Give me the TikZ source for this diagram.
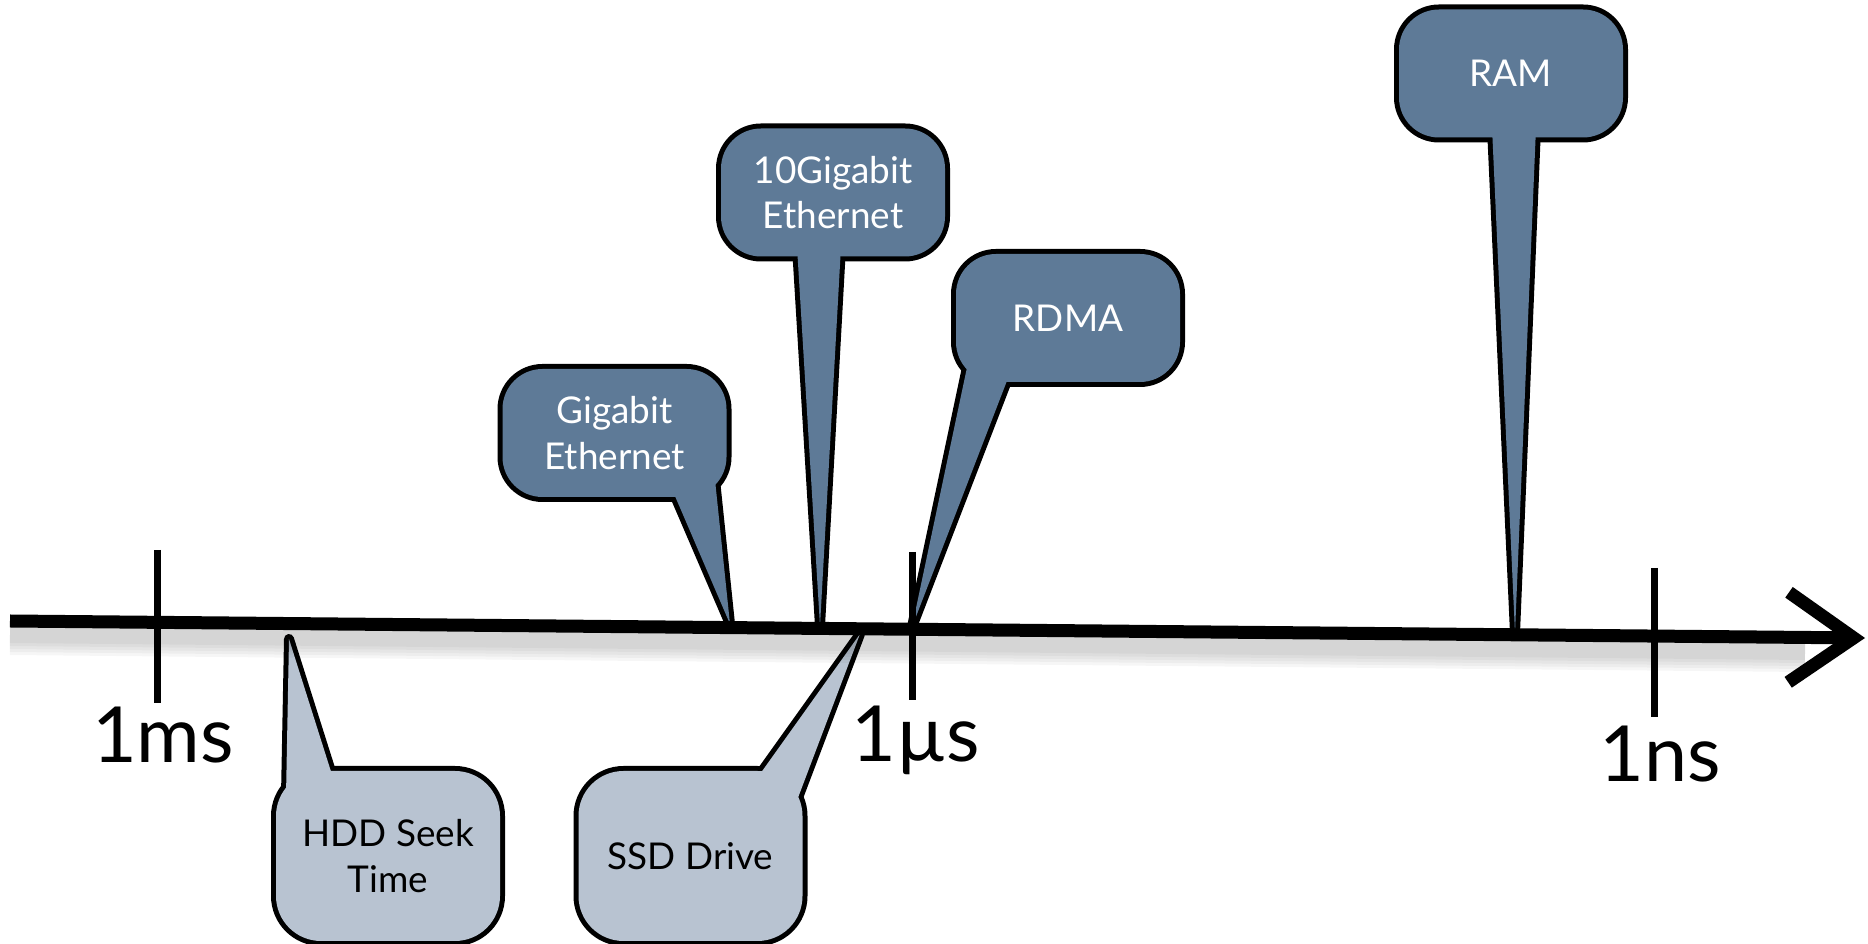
\documentclass[tikz,border=0pt]{standalone}
\usepackage{fontspec}
\setmainfont{Lato}
\usetikzlibrary{arrows.meta, calc, backgrounds, positioning}
\definecolor{bubbledark}{RGB}{94,122,151}
\definecolor{bubblelight}{RGB}{184,195,209}
\tikzset{bubble/.style={rectangle, inner sep=0pt, outer sep=0pt, align=center, % text box of a callout
font=\fontsize{10.5}{13}\selectfont,
preaction={draw=black, line width=1mm}}, % outline drawn under the fill, so only its outer half shows
darkbubble/.style={bubble, fill=bubbledark, text=white, rounded corners=4mm, minimum width=22.4mm, minimum height=12.8mm},
lightbubble/.style={bubble, fill=bubblelight, text=black, rounded corners=4.5mm, minimum width=22.4mm, minimum height=17mm},
tailline/.style={draw=black, line width=1mm, line join=round}, % outline of a pointer
tickmark/.style={draw=black, line width=0.7mm},
scalelabel/.style={anchor=base, font=\fontsize{22}{26}\selectfont},
}

\begin{document}
\begin{tikzpicture}[x=0.1mm, y=-0.1mm]
    \useasboundingbox (0,0) rectangle (1868,944);

    % callouts above the axis
    \node[darkbubble] (gige) at (614.5,433) {Gigabit\\Ethernet};
    \node[darkbubble] (tengig) at (833,192.5) {10Gigabit\\Ethernet};
    \node[darkbubble] (rdma) at (1068,318) {RDMA};
    \node[darkbubble] (ram) at (1511,73.5) {RAM};
    % callouts below the axis
    \node[lightbubble] (hdd) at (388,856) {HDD Seek\\Time};
    \node[lightbubble] (ssd) at (690.5,856) {SSD Drive};

    % where the pointers end
    \coordinate (t-gige) at (730,624);
    \coordinate (t-tengig) at (820,626);
    \coordinate (t-rdma) at (912,627);
    \coordinate (t-ram) at (1515,633);
    \coordinate (t-hdd) at (289,639);
    \coordinate (t-ssd) at (860,634);

    \begin{scope}[on background layer]
        \draw[tailline] ($(gige.south east)+(-55,-9)$) -- (t-gige) -- ($(gige.south east)+(-12,-22)$) -- cycle;
        \draw[tailline] ($(tengig.south)+(-36,-10)$) -- (t-tengig) -- ($(tengig.south)+(8,-10)$) -- cycle;
        \draw[tailline] ($(rdma.south west)+(13,-24)$) -- (t-rdma) -- ($(rdma.south west)+(54,-9)$) -- cycle;
        \draw[tailline] ($(ram.south)+(-19,-10)$) -- (t-ram) -- ($(ram.south)+(25,-10)$) -- cycle;
        \draw[tailline] ($(hdd.north west)+(10,25)$) -- (t-hdd) -- ($(hdd.north west)+(58,10)$) -- cycle;
        \draw[tailline] ($(ssd.north east)+(-46,8)$) -- (t-ssd) -- ($(ssd.north east)+(-8,36)$) -- cycle;
    \end{scope}
    \fill[bubbledark] ($(gige.south east)+(-55,-9)$) -- (t-gige) -- ($(gige.south east)+(-12,-22)$) -- cycle;
    \fill[bubbledark] ($(tengig.south)+(-36,-10)$) -- (t-tengig) -- ($(tengig.south)+(8,-10)$) -- cycle;
    \fill[bubbledark] ($(rdma.south west)+(13,-24)$) -- (t-rdma) -- ($(rdma.south west)+(54,-9)$) -- cycle;
    \fill[bubbledark] ($(ram.south)+(-19,-10)$) -- (t-ram) -- ($(ram.south)+(25,-10)$) -- cycle;
    \fill[bubblelight] ($(hdd.north west)+(10,25)$) -- (t-hdd) -- ($(hdd.north west)+(58,10)$) -- cycle;
    \fill[bubblelight] ($(ssd.north east)+(-46,8)$) -- (t-ssd) -- ($(ssd.north east)+(-8,36)$) -- cycle;

    % time axis
    \coordinate (axstart) at (10,621);
    \coordinate (axend) at (1865,638);
    \foreach \w in {4mm, 3.4mm, 2.8mm, 2.2mm, 1.6mm}
        \draw[line width=\w, opacity=0.035] ($(axstart)+(0,14)$) -- ($(axend)+(-60,14)$);
    \draw[line width=1.3mm, -{Straight Barb[length=6.5mm, width=9mm]}] (axstart) -- (axend);

    \coordinate (ms) at (157,622);
    \coordinate (us) at (912,629);
    \coordinate (ns) at (1654,636);
    \draw[tickmark] (ms) ++(0,-72) -- ++(0,153);
    \draw[tickmark] (us) ++(0,-77) -- ++(0,148);
    \draw[tickmark] (ns) ++(0,-68) -- ++(0,149);

    \node[scalelabel] (ms-label) at (163,763) {1ms};
    \node[scalelabel] (us-label) at (916,762) {1µs};
    \node[scalelabel] (ns-label) at (1660,782) {1ns};
\end{tikzpicture}
\end{document}
